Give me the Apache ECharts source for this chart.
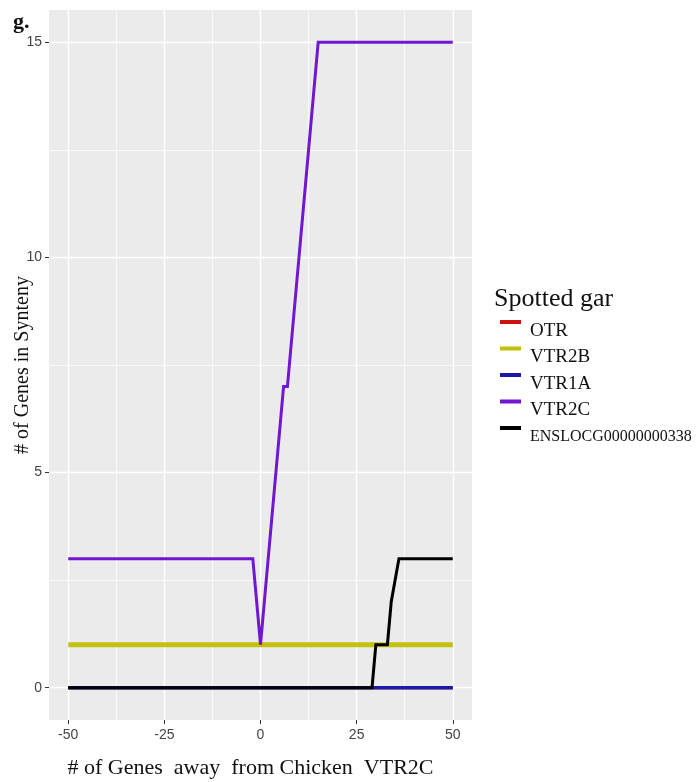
<!DOCTYPE html>
<html>
<head>
<meta charset="utf-8">
<script src="https://cdn.jsdelivr.net/npm/echarts@6/dist/echarts.min.js"></script>
<style>
html,body{margin:0;padding:0;background:#fff}
#chart{width:696px;height:782px}
</style>
</head>
<body>
<div id="chart"></div>
<script>
// Genes in synteny around chicken VTR2C, spotted gar paralogs
const seriesNames = ['OTR', 'VTR2B', 'VTR1A', 'VTR2C', 'ENSLOCG00000000338'];
const otr = [[-50, 0], [50, 0]];
const vtr2b = [[-50, 1], [50, 1]];
const vtr1a = [[-50, 0], [50, 0]];
const vtr2c = [[-50, 3], [-2, 3], [0, 1], [6, 7], [7, 7], [15, 15], [50, 15]];
const enslocg = [[-50, 0], [29, 0], [30, 1], [33, 1], [34, 2], [34.5, 2], [36, 3], [50, 3]];

const xTicks = [-50, -25, 0, 25, 50];
const xMinor = [-37.5, -12.5, 12.5, 37.5];
const yTicks = [0, 5, 10, 15];
const yMinor = [2.5, 7.5, 12.5];

const colors = ['#cc1111', '#c4c10c', '#1a1aa6', '#7216d0', '#000000'];
const widths = [3, 5, 3.5, 3, 3];
const dataSets = [otr, vtr2b, vtr1a, vtr2c, enslocg];

const chart = echarts.init(document.getElementById('chart'), null, { renderer: 'canvas' });

const serif = 'Liberation Serif';
const sans = 'Liberation Sans';

const majorAxisCommon = {
  type: 'value',
  axisLine: { show: false, onZero: false },
  axisTick: { show: true, length: 4, lineStyle: { color: '#333', width: 1 } },
  splitLine: { show: true, lineStyle: { color: '#ffffff', width: 1.4 } },
  axisLabel: { color: '#444', fontSize: 14, fontFamily: sans }
};
const minorAxisCommon = {
  type: 'value',
  axisLine: { show: false, onZero: false },
  axisLabel: { show: false },
  splitLine: { show: true, lineStyle: { color: '#ffffff', width: 0.7 } }
};

chart.setOption({
  animation: false,
  backgroundColor: '#ffffff',
  title: [
    { text: 'g.', left: 8, top: 6,
      textStyle: { fontFamily: serif, fontWeight: 'bold', fontSize: 22, color: '#111' } },
    { text: 'Spotted gar', left: 489, top: 281,
      textStyle: { fontFamily: serif, fontWeight: 'normal', fontSize: 26, color: '#111' } }
  ],
  legend: {
    orient: 'vertical',
    left: 495,
    top: 304,
    icon: 'rect',
    itemWidth: 21,
    itemHeight: 4,
    itemGap: -5,
    data: seriesNames,
    textStyle: {
      fontFamily: serif, fontSize: 19, color: '#111', lineHeight: 8,
      padding: [18, 0, 0, 4],
      rich: { small: { fontFamily: serif, fontSize: 16, color: '#111', lineHeight: 8 } }
    },
    formatter: function (name) {
      return name.length > 10 ? '{small|' + name + '}' : name;
    }
  },
  grid: {
    left: 49, right: 224, top: 10, bottom: 62,
    outerBoundsMode: 'none',
    containLabel: false,
    show: true, backgroundColor: '#ebebeb', borderWidth: 0
  },
  xAxis: [
    Object.assign({}, majorAxisCommon, {
      min: -55, max: 55, position: 'bottom',
      axisTick: Object.assign({}, majorAxisCommon.axisTick, { customValues: xTicks }),
      axisLabel: Object.assign({}, majorAxisCommon.axisLabel, { customValues: xTicks, margin: 8 }),
      name: '# of Genes  away  from Chicken  VTR2C',
      nameLocation: 'middle',
      nameGap: 37,
      nameMoveOverlap: false,
      nameTextStyle: { fontFamily: serif, fontSize: 22, color: '#111', padding: [0, 20, 0, 0] }
    }),
    Object.assign({}, minorAxisCommon, {
      min: -55, max: 55, position: 'bottom',
      axisTick: { show: false, customValues: xMinor }
    })
  ],
  yAxis: [
    Object.assign({}, majorAxisCommon, {
      min: -0.75, max: 15.75, position: 'left',
      axisTick: Object.assign({}, majorAxisCommon.axisTick, { customValues: yTicks }),
      axisLabel: Object.assign({}, majorAxisCommon.axisLabel, { customValues: yTicks, margin: 7 }),
      name: '# of Genes in Synteny',
      nameLocation: 'middle',
      nameGap: 16,
      nameRotate: 90,
      nameMoveOverlap: false,
      nameTextStyle: { fontFamily: serif, fontSize: 20, color: '#111' }
    }),
    Object.assign({}, minorAxisCommon, {
      min: -0.75, max: 15.75, position: 'left',
      axisTick: { show: false, customValues: yMinor }
    })
  ],
  series: seriesNames.map(function (name, i) {
    return {
      name: name,
      type: 'line',
      xAxisIndex: 0,
      yAxisIndex: 0,
      data: dataSets[i],
      symbol: 'none',
      showSymbol: false,
      color: colors[i],
      lineStyle: { color: colors[i], width: widths[i], join: 'miter' },
      itemStyle: { color: colors[i] },
      z: 2 + i
    };
  })
});
</script>
</body>
</html>
